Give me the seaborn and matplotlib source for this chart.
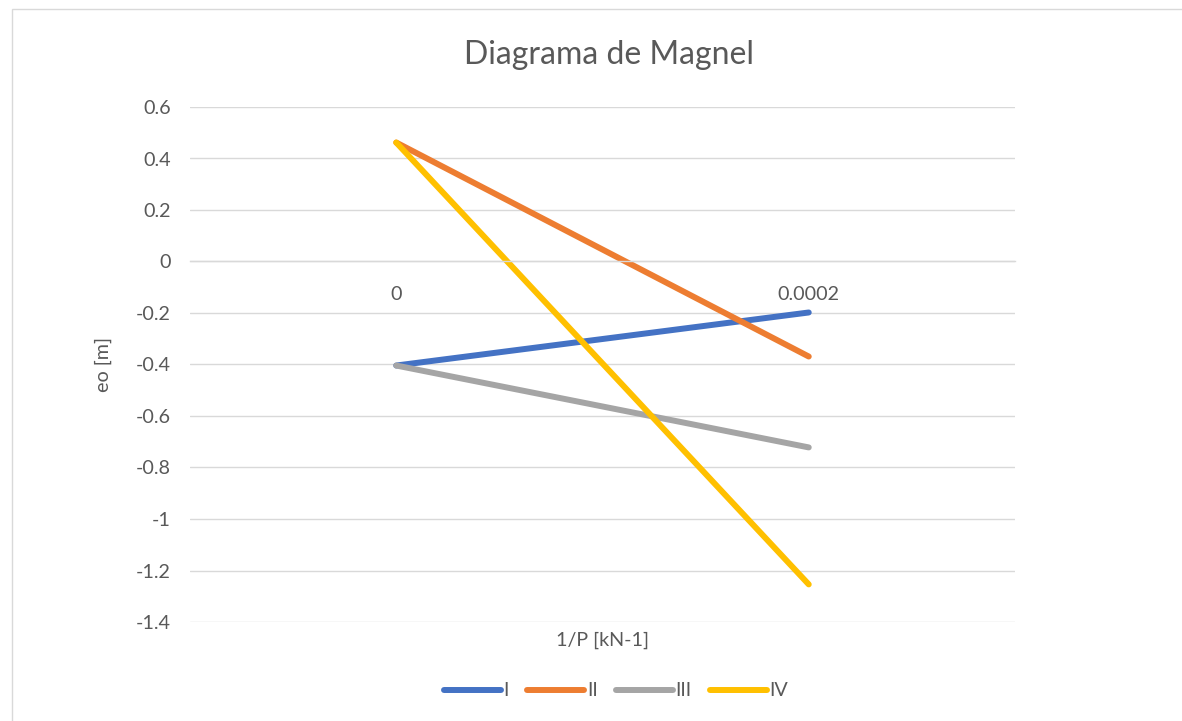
import matplotlib
matplotlib.use("Agg")
import matplotlib.pyplot as plt
from matplotlib.patches import Rectangle
import seaborn as sns
import pandas as pd

# Magnel diagram: eccentricity limits against 1/P
categories = ["0", "0.0002"]
series_names = ["I", "II", "III", "IV"]
values_I = [-0.404, -0.198]
values_II = [0.462, -0.369]
values_III = [-0.404, -0.722]
values_IV = [0.462, -1.254]
y_ticks = [0.6, 0.4, 0.2, 0, -0.2, -0.4, -0.6, -0.8, -1, -1.2, -1.4]
colors = ["#4472C4", "#ED7D31", "#A5A5A5", "#FFC000"]

rows = []
for name, vals in zip(series_names, [values_I, values_II, values_III, values_IV]):
    for cat, v in zip(categories, vals):
        rows.append({"x": cat, "eo": v, "serie": name})
df = pd.DataFrame(rows)

sns.set_theme(style="white")
plt.rcParams["font.family"] = ["Lato", "DejaVu Sans"]
text_color = "#595959"
grid_color = "#D9D9D9"
fs = 14.2

fig = plt.figure(figsize=(11.82, 7.21), dpi=100)
ax = fig.add_axes([190 / 1182, 1 - 622 / 721, 825 / 1182, 515 / 721])

sns.lineplot(data=df, x="x", y="eo", hue="serie", palette=colors,
             sort=False, linewidth=4.3, ax=ax, legend=False,
             solid_capstyle="round")

ax.set_xlim(-0.5, 1.5)
ax.set_ylim(-1.4, 0.6)
ax.set_yticks(y_ticks)
ax.set_yticklabels([f"{t:g}" for t in y_ticks], color=text_color, fontsize=fs)
ax.yaxis.grid(True, color=grid_color, linewidth=1)
ax.set_axisbelow(True)
for s in ["top", "right", "left"]:
    ax.spines[s].set_visible(False)
ax.spines["bottom"].set_position(("data", 0))
ax.spines["bottom"].set_color(grid_color)
ax.spines["bottom"].set_linewidth(1)
ax.tick_params(axis="x", length=0, pad=18, labelsize=fs, labelcolor=text_color)
ax.tick_params(axis="y", length=0, pad=14)
ax.set_xlabel("")
ax.set_ylabel("")

fig.text(609 / 1182, 1 - 55 / 721, "Diagrama de Magnel", ha="center", va="center",
         fontsize=23, color=text_color)
fig.text(602 / 1182, 1 - 640 / 721, "1/P [kN-1]", ha="center", va="center",
         fontsize=fs, color=text_color)
fig.text(103 / 1182, 1 - 364 / 721, "eo [m]", ha="center", va="center",
         rotation=90, fontsize=fs, color=text_color)

handles = [plt.Line2D([], [], color=c, linewidth=4.3, solid_capstyle="round")
           for c in colors]
fig.legend(handles, series_names, loc="center", bbox_to_anchor=(616 / 1182, 1 - 691 / 721),
           ncol=4, frameon=False, fontsize=fs, handlelength=2.9, handletextpad=0.15,
           columnspacing=0.9, labelcolor=text_color)

fig.patches.append(Rectangle((12 / 1182, -0.1), 1.0, 1 - 9 / 721 + 0.1,
                             transform=fig.transFigure, fill=False,
                             edgecolor=grid_color, linewidth=1))

fig.savefig("out.png", dpi=100)
